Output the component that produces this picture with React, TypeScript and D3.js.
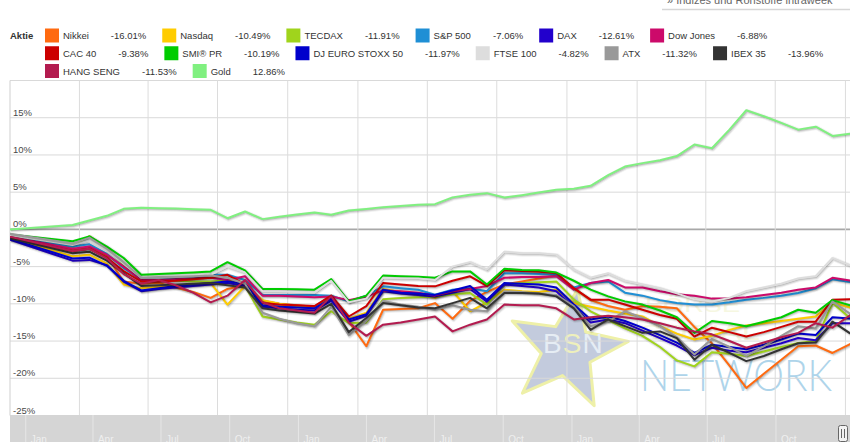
import React from "react";
import * as d3 from "d3";

const W = 850;
const H = 442;

const dates = [
  "2010-10-02", "2010-12-23", "2011-01-14", "2011-02-06", "2011-02-28", "2011-03-23",
  "2011-04-15", "2011-05-07", "2011-05-30", "2011-06-22", "2011-07-14", "2011-08-06",
  "2011-08-29", "2011-09-20", "2011-10-13", "2011-11-05", "2011-11-27", "2011-12-20",
  "2012-01-12", "2012-02-03", "2012-02-26", "2012-03-20", "2012-04-11", "2012-05-04",
  "2012-05-27", "2012-06-18", "2012-07-11", "2012-08-03", "2012-08-25", "2012-09-17",
  "2012-10-10", "2012-11-01", "2012-11-24", "2012-12-16", "2013-01-08", "2013-01-31",
  "2013-02-22", "2013-03-17", "2013-04-09", "2013-05-02", "2013-05-24", "2013-06-16",
  "2013-07-09", "2013-07-31", "2013-08-23", "2013-09-14", "2013-10-07",
];

const nikkei = [-1.0,-2.8,-2.5,-3.6,-7.0,-7.3,-7.2,-7.8,-8.4,-9.2,-8.0,-7.5,-9.6,-10.0,-10.2,-10.4,-8.9,-12.4,-15.7,-10.8,-10.7,-10.6,-9.9,-12.0,-9.6,-8.4,-7.4,-7.0,-6.6,-6.2,-7.9,-9.5,-10.3,-10.8,-10.3,-10.4,-10.6,-13.1,-15.3,-18.3,-21.3,-19.4,-17.5,-15.7,-15.6,-16.6,-15.4];
const nasdaq = [-1.2,-3.6,-3.4,-4.6,-7.4,-7.9,-7.7,-7.6,-7.4,-7.2,-10.1,-7.6,-9.5,-10.0,-10.3,-10.6,-9.0,-12.0,-11.2,-8.0,-8.4,-8.8,-9.2,-8.3,-11.0,-9.8,-8.1,-8.3,-8.4,-8.1,-9.9,-10.4,-10.9,-11.3,-11.7,-13.0,-14.0,-14.8,-14.3,-13.5,-12.9,-12.6,-12.3,-12.0,-11.7,-9.8,-10.49];
const tecdax = [-0.8,-2.3,-0.9,-2.5,-4.8,-6.9,-6.9,-6.9,-7.0,-7.0,-6.8,-7.6,-11.7,-12.1,-12.5,-12.8,-11.0,-12.6,-12.5,-9.4,-9.2,-9.1,-9.0,-8.7,-8.55,-10.1,-7.4,-7.2,-7.1,-7.0,-9.44,-11.0,-12.2,-13.3,-14.3,-15.8,-17.6,-18.4,-16.5,-16.7,-17.0,-16.4,-15.8,-15.25,-15.0,-9.9,-11.91];
const sp500 = [-1.0,-2.3,-2.0,-3.3,-5.2,-6.7,-6.7,-6.6,-6.5,-6.1,-6.1,-6.8,-8.8,-8.8,-8.8,-8.8,-8.9,-9.67,-8.9,-7.65,-7.9,-8.1,-8.77,-8.1,-7.9,-8.3,-5.9,-5.9,-6.0,-6.1,-7.8,-7.2,-7.0,-8.5,-8.9,-9.5,-9.9,-10.1,-10.1,-9.8,-9.44,-9.2,-8.9,-8.55,-7.9,-6.7,-7.06];
const dax = [-1.4,-4.2,-4.1,-4.8,-7.0,-8.3,-8.0,-7.8,-7.6,-7.4,-7.2,-7.6,-10.4,-10.6,-10.8,-10.9,-9.6,-12.4,-11.6,-8.3,-8.6,-8.8,-9.0,-8.5,-8.0,-9.7,-7.4,-7.6,-7.8,-8.3,-10.5,-12.5,-12.1,-12.6,-13.6,-14.6,-15.6,-16.9,-15.9,-16.3,-16.5,-15.9,-15.3,-14.6,-14.9,-12.6,-12.61];
const dowJones = [-1.0,-2.6,-2.3,-3.4,-5.0,-6.8,-6.8,-6.7,-6.6,-6.5,-6.8,-6.3,-8.9,-8.9,-9.0,-9.1,-9.0,-9.5,-9.0,-8.2,-8.3,-8.5,-8.9,-8.3,-8.0,-7.6,-6.5,-6.4,-6.4,-6.3,-8.1,-7.2,-6.8,-7.8,-7.8,-8.3,-8.7,-8.9,-9.3,-9.3,-9.1,-8.8,-8.5,-8.1,-7.8,-6.5,-6.88];
const cac40 = [-1.1,-2.9,-2.6,-3.8,-5.6,-7.0,-7.0,-6.9,-6.7,-6.5,-6.1,-7.4,-9.9,-10.1,-10.2,-10.3,-8.9,-11.7,-10.3,-7.2,-7.4,-7.6,-7.65,-6.9,-6.3,-7.6,-5.5,-5.6,-5.7,-5.86,-7.9,-9.44,-9.44,-10.1,-10.8,-11.5,-12.0,-14.4,-13.2,-13.8,-14.4,-13.8,-13.1,-12.4,-12.4,-9.44,-9.38];
const smi = [-0.7,-1.6,-0.95,-2.3,-3.85,-6.1,-6.0,-5.9,-5.8,-5.65,-4.4,-5.5,-8.0,-8.0,-8.05,-8.1,-6.67,-9.67,-8.9,-6.2,-6.3,-6.35,-6.5,-5.64,-5.64,-7.4,-5.3,-5.45,-5.5,-5.8,-6.9,-8.1,-9.0,-9.67,-10.1,-10.9,-11.8,-13.9,-12.3,-12.6,-13.0,-12.4,-11.8,-10.8,-11.2,-9.5,-10.19];
const euroStoxx = [-1.3,-3.9,-3.8,-4.9,-6.9,-8.2,-7.9,-7.6,-7.4,-7.2,-7.0,-7.3,-10.2,-10.4,-10.5,-10.6,-9.3,-12.1,-11.4,-8.1,-8.5,-8.6,-8.8,-8.2,-7.6,-9.44,-7.2,-7.3,-7.4,-7.8,-10.1,-12.1,-11.7,-12.3,-13.2,-14.2,-15.2,-16.6,-15.5,-15.8,-16.1,-15.5,-14.8,-14.0,-14.2,-11.8,-11.97];
const ftse = [-0.8,-2.1,-1.5,-2.8,-4.6,-6.5,-6.5,-6.4,-6.3,-6.1,-5.0,-5.8,-8.3,-8.35,-8.4,-8.5,-6.9,-9.8,-9.3,-6.5,-6.6,-6.6,-6.8,-5.0,-4.4,-5.4,-3.0,-3.2,-3.2,-3.4,-5.4,-6.5,-5.9,-6.9,-7.4,-7.9,-8.6,-9.4,-9.7,-9.2,-8.3,-7.8,-7.3,-6.6,-6.3,-3.85,-4.82];
const atx = [-0.6,-1.9,-1.1,-2.6,-4.4,-6.5,-6.4,-6.35,-6.3,-6.2,-6.5,-7.3,-11.2,-12.0,-12.6,-13.0,-10.4,-14.2,-12.3,-9.6,-10.1,-10.4,-10.8,-10.2,-10.8,-11.0,-8.3,-8.4,-8.6,-8.8,-10.3,-13.0,-12.35,-11.0,-11.9,-13.0,-14.5,-16.8,-14.7,-15.8,-17.0,-15.7,-14.3,-13.0,-13.3,-9.7,-11.32];
const ibex = [-1.2,-3.2,-3.0,-4.2,-5.9,-7.6,-7.5,-7.4,-7.3,-7.2,-7.5,-7.8,-10.6,-10.9,-11.1,-11.3,-10.0,-13.8,-11.9,-9.9,-10.2,-10.5,-10.6,-9.9,-9.2,-10.6,-8.55,-8.55,-8.6,-9.0,-10.6,-13.5,-12.1,-13.0,-13.9,-13.7,-14.6,-17.5,-15.5,-16.6,-17.7,-17.0,-16.1,-15.3,-15.2,-12.4,-13.96];
const hangSeng = [-1.0,-2.9,-2.6,-3.9,-6.0,-7.3,-6.8,-7.5,-8.5,-9.8,-8.9,-6.8,-9.8,-10.6,-10.9,-11.2,-9.0,-12.5,-14.3,-12.8,-12.5,-12.1,-11.7,-13.7,-12.8,-12.1,-10.1,-10.2,-10.2,-10.6,-12.1,-11.8,-11.6,-11.8,-12.1,-12.6,-13.2,-13.7,-14.1,-15.0,-15.9,-15.2,-14.5,-13.9,-12.6,-13.2,-11.53];
const gold = [0,0.58,1.2,1.82,2.76,2.9,2.85,2.8,2.7,2.63,1.5,2.4,1.38,1.7,2.0,2.27,1.96,2.54,2.75,2.99,3.15,3.3,3.39,4.3,4.64,4.87,4.28,4.6,4.95,5.31,5.45,5.85,7.3,8.44,8.9,9.3,9.85,11.4,10.9,13.4,16.0,15.2,14.3,13.4,13.8,12.55,12.86];

const seriesNames = ["Nikkei", "Nasdaq", "TECDAX", "S&P 500", "DAX", "Dow Jones", "CAC 40", "SMI® PR", "DJ EURO STOXX 50", "FTSE 100", "ATX", "IBEX 35", "HANG SENG", "Gold"];
const seriesValues = [nikkei, nasdaq, tecdax, sp500, dax, dowJones, cac40, smi, euroStoxx, ftse, atx, ibex, hangSeng, gold];
const seriesColors = ["#FF6A10", "#FFCC00", "#A0D41C", "#1F8FD5", "#2200CC", "#CC0A6A", "#CC0000", "#00CC00", "#0000CC", "#DDDDDD", "#999999", "#333333", "#B31B4F", "#80F080"];
const legendChanges = ["-16.01%", "-10.49%", "-11.91%", "-7.06%", "-12.61%", "-6.88%", "-9.38%", "-10.19%", "-11.97%", "-4.82%", "-11.32%", "-13.96%", "-11.53%", "12.86%"];
const yTicks = [-25, -20, -15, -10, -5, 0, 5, 10, 15, 20];
const yLabelTicks = [-25, -20, -15, -10, -5, 0, 5, 10, 15];

const FONT = "'Liberation Sans', Arial, Helvetica, sans-serif";
const parse = d3.timeParse("%Y-%m-%d");

let ctx: CanvasRenderingContext2D | null = null;
function textWidth(t: string, size: number, weight = "normal") {
  if (!ctx) ctx = document.createElement("canvas").getContext("2d");
  if (!ctx) return t.length * size * 0.55;
  ctx.font = `${weight} ${size}px ${FONT}`;
  return ctx.measureText(t).width;
}

export default function App() {
  const plotLeft = 10, plotRight = 850, plotTop = 80.5, plotBottom = 415.5;
  const x = d3.scaleTime().domain([parse("2010-10-02")!, parse("2013-10-07")!]).range([plotLeft, plotRight]);
  const y = d3.scaleLinear().domain([-25, 20]).range([plotBottom, plotTop]);
  const xDates = dates.map((d) => parse(d)!);
  const line = d3.line<number>().x((_, i) => x(xDates[i])).y((v) => y(v));
  const qTicks = x.ticks(d3.timeMonth.every(3)!);

  const nav = d3.scaleTime().domain([parse("2010-12-11")!, parse("2014-01-08")!]).range([plotLeft, plotRight]);
  const navTicks = nav.ticks(d3.timeMonth.every(3)!).filter((d) => nav(d) < 830);
  const fmt = d3.timeFormat("%b");

  const fs = 9.5;
  const legendItems: { x: number; row: number; i: number; valueX: number }[] = [];
  let cx = 45, row = 0;
  seriesNames.forEach((n, i) => {
    const nw = textWidth(n, fs);
    const vw = textWidth(legendChanges[i], fs);
    const itemEnd = cx + 18 + nw + 22 + vw;
    if (itemEnd > 850 && cx > 45) { row += 1; cx = 45; }
    const valueX = cx + 18 + nw + 22;
    legendItems.push({ x: cx, row, i, valueX });
    cx = valueX + vw + 16;
  });

  const sc = [567, 350], R = 62, r = 26;
  const starPts: string[] = [];
  for (let k = 0; k < 10; k++) {
    const a = ((352 + k * 36) * Math.PI) / 180;
    const rad = k % 2 === 0 ? R : r;
    starPts.push(`${sc[0] + rad * Math.cos(a)},${sc[1] + rad * Math.sin(a)}`);
  }

  return (
    <svg width={W} height={H} style={{ position: "absolute", left: 0, top: 0, display: "block", background: "#fff" }} fontFamily={FONT}>
      <defs>
        <clipPath id="plotClip">
          <rect x={plotLeft} y={plotTop - 2} width={plotRight - plotLeft} height={plotBottom - plotTop + 2} />
        </clipPath>
      </defs>
      <rect x={0} y={0} width={W} height={H} fill="#fff" />

      <text x={667} y={4} fontSize={11} fill="#666">» Indizes und Rohstoffe intraweek</text>
      <line x1={662} x2={850} y1={9.5} y2={9.5} stroke="#d6d6d6" strokeWidth={1.5} />

      <text x={10} y={39.3} fontSize={fs} fontWeight="bold" fill="#333">Aktie</text>
      {legendItems.map((it) => {
        const top = 28.5 + it.row * 17.75;
        return (
          <g key={it.i}>
            <rect x={it.x} y={top} width={14} height={14} fill={seriesColors[it.i]} />
            <text x={it.x + 18} y={top + 10.8} fontSize={fs} fill="#333">{seriesNames[it.i]}</text>
            <text x={it.valueX} y={top + 10.8} fontSize={fs} fill="#333">{legendChanges[it.i]}</text>
          </g>
        );
      })}

      <g>
        <polygon points={starPts.join(" ")} fill="#c3cbdd" stroke="#eef0a8" strokeWidth={3} strokeLinejoin="round" />
        <text x={543} y={353} fontSize={28} letterSpacing={1}>
          <tspan fill="#e6edf4">B</tspan>
          <tspan fill="#eef0bc">S</tspan>
          <tspan fill="#e6edf4">N</tspan>
        </text>
        <text x={645} y={312} fontSize={20} fill="#eef0c4" opacity={0.5} textLength={95} lengthAdjust="spacingAndGlyphs">BÖRSE</text>
        <text x={640} y={340} fontSize={22} fill="#eef0c4" opacity={0.5} textLength={120} lengthAdjust="spacingAndGlyphs">SOCIAL</text>
        <text x={640} y={391} fontSize={44} fill="#aed4ea" fontFamily="Lato, 'Open Sans', sans-serif" fontWeight={300} textLength={192} lengthAdjust="spacingAndGlyphs">NETWORK</text>
      </g>

      {yTicks.map((t) => (
        <line key={"h" + t} x1={plotLeft} x2={plotRight} y1={y(t)} y2={y(t)} stroke={t === 0 ? "#a8a8a8" : "#d9d9d9"} strokeWidth={t === 0 ? 1.6 : 1} />
      ))}
      {qTicks.map((d, i) => (
        <line key={"v" + i} x1={x(d)} x2={x(d)} y1={plotTop} y2={plotBottom} stroke="#dcdcdc" strokeWidth={1} />
      ))}
      <line x1={plotLeft} x2={plotLeft} y1={plotTop} y2={plotBottom} stroke="#cfcfcf" strokeWidth={1} />

      {yLabelTicks.map((t) => (
        <text key={"l" + t} x={13} y={y(t) - 2} fontSize={9.5} fill="#4a4a4a">{`${t}%`}</text>
      ))}

      <g clipPath="url(#plotClip)">
        {seriesValues.map((vals, si) => {
          const dStr = line(vals) || "";
          return (
            <g key={"s" + si}>
              {[1, 2, 3].map((k) => (
                <path key={k} d={dStr} fill="none" stroke="#000" strokeOpacity={0.05 * k} strokeWidth={7 - 2 * k} transform="translate(1,1)" strokeLinejoin="round" />
              ))}
              <path d={dStr} fill="none" stroke={seriesColors[si]} strokeWidth={2} strokeLinejoin="round" strokeLinecap="round" />
            </g>
          );
        })}
      </g>

      <rect x={plotLeft} y={415} width={plotRight - plotLeft} height={H - 415} fill="#d5d5d5" />
      {navTicks.map((d, i) => (
        <g key={"n" + i}>
          <line x1={nav(d)} x2={nav(d)} y1={415} y2={H} stroke="#e6e6e6" strokeWidth={1} />
          <text x={nav(d) + 5} y={443} fontSize={10} fill="#efefef">{fmt(d)}</text>
        </g>
      ))}
      <rect x={838.5} y={425.5} width={9} height={16} rx={2} fill="#f2f2f2" stroke="#666" strokeWidth={1} />
      <line x1={841.5} x2={841.5} y1={429} y2={438} stroke="#666" />
      <line x1={844.5} x2={844.5} y1={429} y2={438} stroke="#666" />
    </svg>
  );
}
